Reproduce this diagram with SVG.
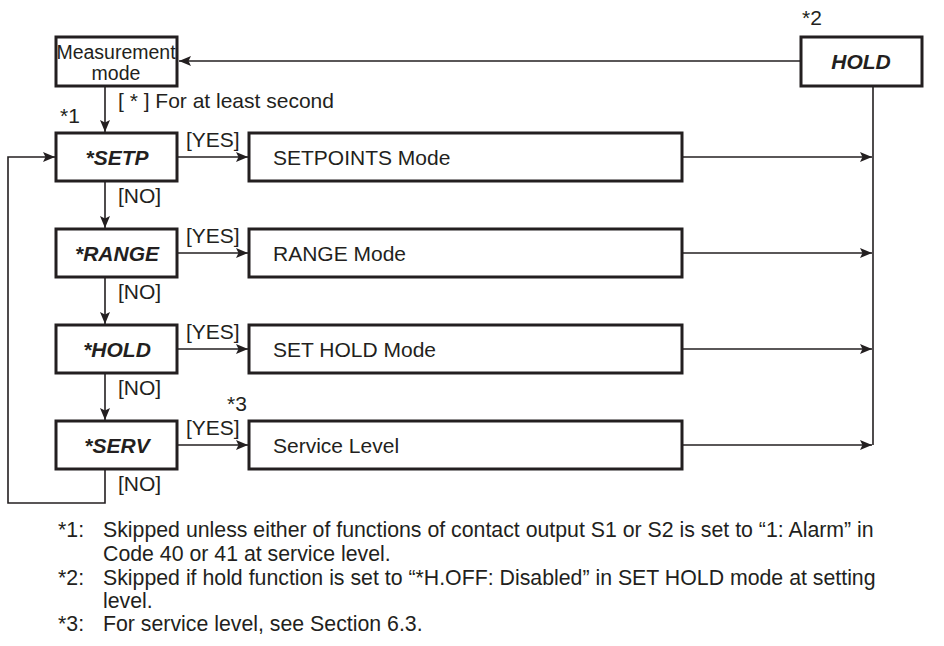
<svg xmlns="http://www.w3.org/2000/svg" width="944" height="646" viewBox="0 0 944 646">
<defs>
<marker id="ah" viewBox="0 0 12 10" refX="12" refY="5" markerWidth="12" markerHeight="10" markerUnits="userSpaceOnUse" orient="auto">
<path d="M0,0 L12,5 L0,10 L2.5,5 z" fill="#231f20"/>
</marker>
<style>
.box{fill:#fff;stroke:#231f20;stroke-width:3}
.ln{fill:none;stroke:#231f20;stroke-width:1.6}
.arr{fill:none;stroke:#231f20;stroke-width:1.6;marker-end:url(#ah)}
text{font-family:"Liberation Sans",Arial,sans-serif;fill:#231f20}
.t{font-size:21px}
.b{font-size:21px;font-weight:bold;font-style:italic}
.m{font-size:19.5px}
.c{text-anchor:middle}
.f{font-size:21.3px}
</style>
</defs>
<rect width="944" height="646" fill="#fff"/>
<g id="connectors">
<line class="arr" x1="801" y1="61" x2="179" y2="61"/>
<line class="arr" x1="105" y1="86" x2="105" y2="132"/>
<line class="arr" x1="177" y1="157" x2="248" y2="157"/>
<line class="arr" x1="105" y1="181" x2="105" y2="228"/>
<line class="arr" x1="177" y1="253" x2="248" y2="253"/>
<line class="arr" x1="105" y1="277" x2="105" y2="324"/>
<line class="arr" x1="177" y1="349" x2="248" y2="349"/>
<line class="arr" x1="105" y1="373" x2="105" y2="420"/>
<line class="arr" x1="177" y1="445" x2="248" y2="445"/>
<polyline class="arr" points="105,469 105,503 8,503 8,157 55,157"/>
<line class="arr" x1="682" y1="157" x2="872" y2="157"/>
<line class="arr" x1="682" y1="253" x2="872" y2="253"/>
<line class="arr" x1="682" y1="349" x2="872" y2="349"/>
<line class="arr" x1="682" y1="445" x2="872" y2="445"/>
<line class="ln" x1="873" y1="86" x2="873" y2="445"/>
</g>
<g id="measurement">
<rect class="box" x="56" y="37" width="121" height="49"/>
<text class="m c" x="116" y="59">Measurement</text>
<text class="m c" x="116" y="80">mode</text>
</g>
<g id="hold-top">
<rect class="box" x="801" y="37" width="121" height="49"/>
<text class="b c" x="861" y="69">HOLD</text>
<text class="t" x="802" y="25">*2</text>
</g>
<text class="t" x="118" y="108">[ * ] For at least second</text>
<text class="t" x="60" y="123">*1</text>
<g id="setp">
<rect class="box" x="56" y="133" width="121" height="48"/>
<text class="b c" x="117" y="165">*SETP</text>
</g>
<g id="setpoints">
<rect class="box" x="249" y="133" width="433" height="48"/>
<text class="t" x="273" y="165">SETPOINTS Mode</text>
</g>
<g id="range">
<rect class="box" x="56" y="229" width="121" height="48"/>
<text class="b c" x="117" y="261">*RANGE</text>
</g>
<g id="range-mode">
<rect class="box" x="249" y="229" width="433" height="48"/>
<text class="t" x="273" y="261">RANGE Mode</text>
</g>
<g id="hold">
<rect class="box" x="56" y="325" width="121" height="48"/>
<text class="b c" x="117" y="357">*HOLD</text>
</g>
<g id="set-hold">
<rect class="box" x="249" y="325" width="433" height="48"/>
<text class="t" x="273" y="357">SET HOLD Mode</text>
</g>
<g id="serv">
<rect class="box" x="56" y="421" width="121" height="48"/>
<text class="b c" x="117" y="453">*SERV</text>
</g>
<g id="service">
<rect class="box" x="249" y="421" width="433" height="48"/>
<text class="t" x="273" y="453">Service Level</text>
</g>
<g id="labels">
<text class="t" x="186" y="147">[YES]</text>
<text class="t" x="186" y="243">[YES]</text>
<text class="t" x="186" y="339">[YES]</text>
<text class="t" x="186" y="435">[YES]</text>
<text class="t" x="118" y="203">[NO]</text>
<text class="t" x="118" y="299">[NO]</text>
<text class="t" x="118" y="395">[NO]</text>
<text class="t" x="118" y="491">[NO]</text>
<text class="t" x="227" y="411">*3</text>
</g>
<g id="notes">
<text class="f" x="58" y="537">*1:</text>
<text class="f" x="103" y="537">Skipped unless either of functions of contact output S1 or S2 is set to “1: Alarm” in</text>
<text class="f" x="103" y="561">Code 40 or 41 at service level.</text>
<text class="f" x="58" y="585">*2:</text>
<text class="f" x="103" y="585">Skipped if hold function is set to “*H.OFF: Disabled” in SET HOLD mode at setting</text>
<text class="f" x="103" y="608">level.</text>
<text class="f" x="58" y="631">*3:</text>
<text class="f" x="103" y="631">For service level, see Section 6.3.</text>
</g>
</svg>
